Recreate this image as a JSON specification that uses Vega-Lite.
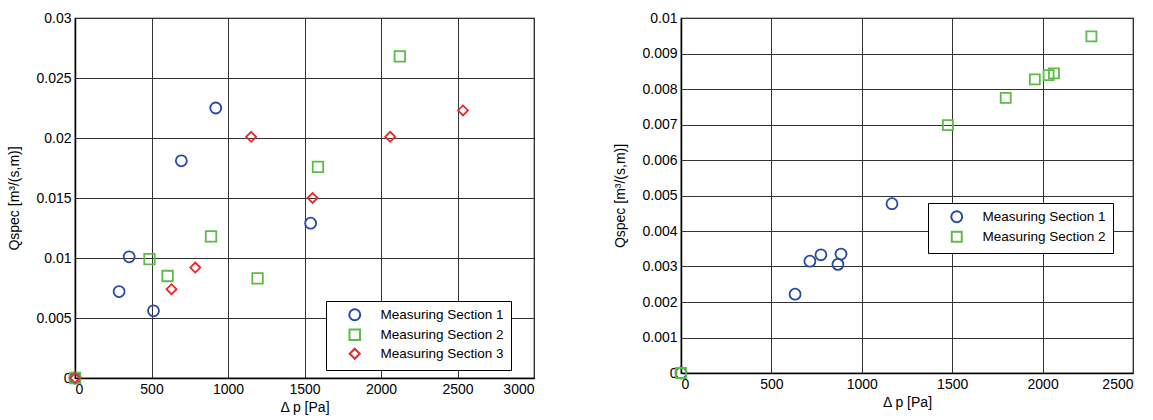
{
  "$schema": "https://vega.github.io/schema/vega-lite/v6.json",
  "padding": {"left": 7, "top": 10, "right": 5, "bottom": 5},
  "background": "white",
  "config": {
    "font": "Liberation Sans",
    "view": {"stroke": "black", "strokeWidth": 1.2},
    "axis": {
      "labelFont": "Liberation Sans", "labelFontSize": 14, "labelColor": "black",
      "titleFont": "Liberation Sans", "titleFontSize": 14, "titleFontWeight": "normal", "titleColor": "black",
      "domainColor": "black", "domainWidth": 1.5,
      "gridColor": "#333", "gridWidth": 1, "gridOpacity": 1,
      "ticks": false, "labelPadding": 4
    },
    "legend": {
      "labelFont": "Liberation Sans", "labelFontSize": 13.5, "labelColor": "black",
      "strokeColor": "black", "fillColor": "white", "padding": 7,
      "symbolStrokeWidth": 2, "symbolOffset": 15, "labelOffset": 19, "rowPadding": 0
    }
  },
  "datasets": {
    "left": [
      {"dp": 0, "q": 0, "series": "Measuring Section 1"},
      {"dp": 288, "q": 0.0072, "series": "Measuring Section 1"},
      {"dp": 354, "q": 0.0101, "series": "Measuring Section 1"},
      {"dp": 513, "q": 0.0056, "series": "Measuring Section 1"},
      {"dp": 695, "q": 0.0181, "series": "Measuring Section 1"},
      {"dp": 920, "q": 0.0225, "series": "Measuring Section 1"},
      {"dp": 1540, "q": 0.0129, "series": "Measuring Section 1"},
      {"dp": 0, "q": 0, "series": "Measuring Section 2"},
      {"dp": 487, "q": 0.0099, "series": "Measuring Section 2"},
      {"dp": 605, "q": 0.0085, "series": "Measuring Section 2"},
      {"dp": 889, "q": 0.0118, "series": "Measuring Section 2"},
      {"dp": 1193, "q": 0.0083, "series": "Measuring Section 2"},
      {"dp": 1588, "q": 0.0176, "series": "Measuring Section 2"},
      {"dp": 2123, "q": 0.0268, "series": "Measuring Section 2"},
      {"dp": 0, "q": 0, "series": "Measuring Section 3"},
      {"dp": 631, "q": 0.0074, "series": "Measuring Section 3"},
      {"dp": 786, "q": 0.0092, "series": "Measuring Section 3"},
      {"dp": 1151, "q": 0.0201, "series": "Measuring Section 3"},
      {"dp": 1553, "q": 0.0150, "series": "Measuring Section 3"},
      {"dp": 2060, "q": 0.0201, "series": "Measuring Section 3"},
      {"dp": 2536, "q": 0.0223, "series": "Measuring Section 3"}
    ],
    "right": [
      {"dp": 0, "q": 0, "series": "Measuring Section 1"},
      {"dp": 631, "q": 0.00222, "series": "Measuring Section 1"},
      {"dp": 713, "q": 0.00315, "series": "Measuring Section 1"},
      {"dp": 774, "q": 0.00333, "series": "Measuring Section 1"},
      {"dp": 868, "q": 0.00306, "series": "Measuring Section 1"},
      {"dp": 885, "q": 0.00335, "series": "Measuring Section 1"},
      {"dp": 1167, "q": 0.00477, "series": "Measuring Section 1"},
      {"dp": 0, "q": 0, "series": "Measuring Section 2"},
      {"dp": 1476, "q": 0.00698, "series": "Measuring Section 2"},
      {"dp": 1796, "q": 0.00775, "series": "Measuring Section 2"},
      {"dp": 1957, "q": 0.00827, "series": "Measuring Section 2"},
      {"dp": 2033, "q": 0.00839, "series": "Measuring Section 2"},
      {"dp": 2063, "q": 0.00844, "series": "Measuring Section 2"},
      {"dp": 2270, "q": 0.00948, "series": "Measuring Section 2"}
    ]
  },
  "hconcat": [
    {
      "width": 459, "height": 360,
      "data": {"name": "left"},
      "mark": {"type": "point", "filled": false, "strokeWidth": 1.8, "opacity": 1},
      "encoding": {
        "x": {"field": "dp", "type": "quantitative", "title": "Δ p [Pa]",
          "scale": {"domain": [0, 3000], "nice": false},
          "axis": {"values": [0, 500, 1000, 1500, 2000, 2500, 3000], "format": "d", "titlePadding": 4}},
        "y": {"field": "q", "type": "quantitative", "title": "Qspec [m³/(s,m)]",
          "scale": {"domain": [0, 0.03], "nice": false},
          "axis": {"values": [0, 0.005, 0.01, 0.015, 0.02, 0.025, 0.03], "format": "~g", "titlePadding": 14}},
        "color": {"field": "series", "type": "nominal",
          "scale": {"domain": ["Measuring Section 1", "Measuring Section 2", "Measuring Section 3"], "range": ["#2449a6", "#5cba47", "#e8272b"]},
          "legend": {"title": null, "orient": "none", "legendX": 251, "legendY": 283}},
        "shape": {"field": "series", "type": "nominal",
          "scale": {"domain": ["Measuring Section 1", "Measuring Section 2", "Measuring Section 3"], "range": ["circle", "square", "diamond"]},
          "legend": {"title": null, "orient": "none", "legendX": 251, "legendY": 283}},
        "size": {"field": "series", "type": "nominal",
          "scale": {"domain": ["Measuring Section 1", "Measuring Section 2", "Measuring Section 3"], "range": [120, 100, 190]},
          "legend": {"title": null, "orient": "none", "legendX": 251, "legendY": 283}}
      }
    },
    {
      "width": 452, "height": 355,
      "data": {"name": "right"},
      "mark": {"type": "point", "filled": false, "strokeWidth": 1.8, "opacity": 1},
      "encoding": {
        "x": {"field": "dp", "type": "quantitative", "title": "Δ p [Pa]",
          "scale": {"domain": [0, 2500], "nice": false},
          "axis": {"values": [0, 500, 1000, 1500, 2000, 2500], "format": "d", "titlePadding": 4}},
        "y": {"field": "q", "type": "quantitative", "title": "Qspec [m³/(s,m)]",
          "scale": {"domain": [0, 0.01], "nice": false},
          "axis": {"values": [0, 0.001, 0.002, 0.003, 0.004, 0.005, 0.006, 0.007, 0.008, 0.009, 0.01], "format": "~g", "titlePadding": 14}},
        "color": {"field": "series", "type": "nominal",
          "scale": {"domain": ["Measuring Section 1", "Measuring Section 2"], "range": ["#2449a6", "#5cba47"]},
          "legend": {"title": null, "orient": "none", "legendX": 247, "legendY": 185}},
        "shape": {"field": "series", "type": "nominal",
          "scale": {"domain": ["Measuring Section 1", "Measuring Section 2"], "range": ["circle", "square"]},
          "legend": {"title": null, "orient": "none", "legendX": 247, "legendY": 185}},
        "size": {"field": "series", "type": "nominal",
          "scale": {"domain": ["Measuring Section 1", "Measuring Section 2"], "range": [120, 100]},
          "legend": {"title": null, "orient": "none", "legendX": 247, "legendY": 185}}
      }
    }
  ],
  "spacing": 78,
  "resolve": {
    "scale": {"color": "independent", "shape": "independent", "size": "independent", "x": "independent", "y": "independent"},
    "legend": {"color": "independent", "shape": "independent", "size": "independent"}
  }
}
